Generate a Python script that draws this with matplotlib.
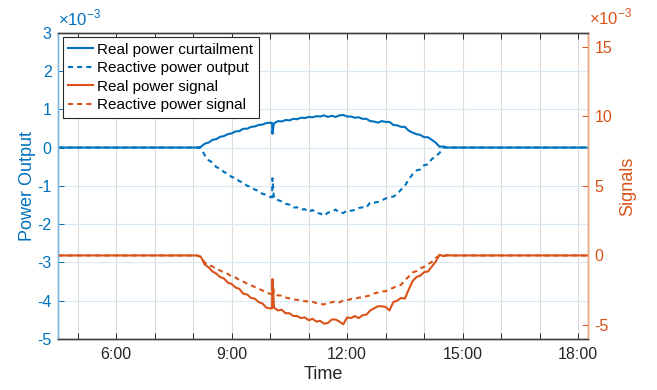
import matplotlib.pyplot as plt
import numpy as np

plt.rcParams['font.family'] = ['Liberation Sans', 'DejaVu Sans']
plt.rcParams['mathtext.fontset'] = 'custom'
plt.rcParams['mathtext.rm'] = 'Liberation Sans'
plt.rcParams['axes.unicode_minus'] = False

BLUE = '#0072BD'
ORANGE = '#D95319'
DARK = '#262626'

# samples every 6 minutes, 8:00 .. 14:42 (hours)
t_day = np.arange(480, 886, 6) / 60.0
t_start, t_end = 4.5, 18.25

# power output axis (x1e-3)
real_curtailment = [
    0.0, 0.0, 0.02, 0.10, 0.13, 0.20, 0.22, 0.28, 0.30, 0.35,
    0.37, 0.42, 0.43, 0.49, 0.49, 0.54, 0.55, 0.59, 0.60, 0.64,
    0.65, 0.63, 0.69, 0.68, 0.72, 0.71, 0.75, 0.74, 0.78, 0.77,
    0.80, 0.79, 0.82, 0.81, 0.84, 0.80, 0.83, 0.80, 0.84, 0.85,
    0.81, 0.81, 0.78, 0.79, 0.75, 0.75, 0.69, 0.68, 0.65, 0.69,
    0.67, 0.67, 0.59, 0.58, 0.54, 0.54, 0.44, 0.39, 0.35, 0.33,
    0.27, 0.27, 0.20, 0.13, 0.02, 0.03, 0.0, 0.0]
reactive_output = [
    0.0, 0.0, -0.02, -0.20, -0.33, -0.39, -0.51, -0.55, -0.64, -0.68,
    -0.77, -0.79, -0.88, -0.91, -1.00, -1.02, -1.10, -1.13, -1.21, -1.23,
    -1.29, -1.33, -1.37, -1.41, -1.47, -1.49, -1.57, -1.56, -1.62, -1.61,
    -1.68, -1.63, -1.72, -1.72, -1.78, -1.70, -1.68, -1.62, -1.70, -1.71,
    -1.64, -1.65, -1.63, -1.58, -1.56, -1.57, -1.43, -1.44, -1.42, -1.38,
    -1.33, -1.30, -1.28, -1.22, -1.10, -1.00, -0.83, -0.70, -0.60, -0.57,
    -0.46, -0.44, -0.30, -0.24, -0.14, 0.0, 0.0, 0.0]

# signal axis (x1e-3)
real_signal = [
    0.0, 0.0, -0.10, -0.65, -0.85, -1.15, -1.30, -1.55, -1.65, -1.95,
    -2.05, -2.30, -2.40, -2.75, -2.80, -3.05, -3.10, -3.35, -3.45, -3.75,
    -3.80, -3.75, -3.95, -3.90, -4.15, -4.15, -4.35, -4.35, -4.50, -4.45,
    -4.65, -4.55, -4.75, -4.70, -4.90, -4.85, -4.60, -4.60, -4.75, -4.95,
    -4.45, -4.50, -4.35, -4.50, -4.30, -4.25, -3.95, -3.80, -3.65, -3.65,
    -3.70, -3.95, -3.35, -3.25, -3.05, -3.10, -2.45, -1.85, -1.55, -1.45,
    -1.20, -1.15, -0.80, -0.45, 0.05, -0.05, 0.02, 0.0]
reactive_signal = [
    0.0, 0.0, -0.10, -0.50, -0.72, -0.78, -0.97, -1.08, -1.22, -1.33,
    -1.52, -1.58, -1.77, -1.88, -2.02, -2.13, -2.27, -2.38, -2.52, -2.68,
    -2.75, -2.80, -2.87, -2.88, -3.02, -3.08, -3.17, -3.18, -3.27, -3.28,
    -3.32, -3.33, -3.42, -3.48, -3.52, -3.38, -3.37, -3.28, -3.37, -3.23,
    -3.22, -3.13, -3.12, -3.03, -3.02, -2.93, -2.87, -2.73, -2.67, -2.58,
    -2.57, -2.43, -2.32, -2.18, -2.12, -1.78, -1.52, -1.23, -1.12, -0.93,
    -0.82, -0.63, -0.47, -0.18, 0.0, 0.0, 0.0, 0.0]

# short disturbance just after 10:00
spike_t = np.array([10.05, 10.06, 10.08])
real_curtailment_spike = [0.64, 0.36, 0.52]
reactive_output_spike = [-1.30, -0.80, -1.10]
real_signal_spike = [-3.80, -1.70, -2.60]
reactive_signal_spike = [-2.80, -1.75, -2.30]


def series(vals, spike_vals):
    t = np.concatenate([[t_start], t_day, spike_t, [t_end]])
    v = np.concatenate([[0.0], vals, spike_vals, [0.0]])
    order = np.argsort(t, kind='stable')
    return t[order], v[order]


def hhmm(h, pos=None):
    return '%d:%02d' % (int(h), round((h % 1) * 60))


fig = plt.figure(figsize=(6.57, 3.9), dpi=100)
ax1 = fig.add_axes([0.089, 0.1308, 0.8055, 0.7854])
ax2 = ax1.twinx()

lw = 1.5
dash = (0, (2.4, 2.0))
l1, = ax1.plot(*series(real_curtailment, real_curtailment_spike), color=BLUE, lw=lw)
l2, = ax1.plot(*series(reactive_output, reactive_output_spike), color=BLUE, lw=lw, ls=dash)
l3, = ax2.plot(*series(real_signal, real_signal_spike), color=ORANGE, lw=lw)
l4, = ax2.plot(*series(reactive_signal, reactive_signal_spike), color=ORANGE, lw=lw, ls=dash)

ax1.set_xlim(t_start, t_end)
ax1.set_ylim(-5, 3)
ax2.set_ylim(-6, 16)

hours = np.arange(5, 19)
ax1.set_xticks(hours)
ax1.set_xticklabels([hhmm(h) if h % 3 == 0 else '' for h in hours])
ax1.set_yticks(np.arange(-5, 4))
ax2.set_yticks([-5, 0, 5, 10, 15])

ax1.grid(True, axis='x', color='#dcdcdc', lw=0.8)
ax1.grid(True, axis='y', color='#d9eaf5', lw=0.8)
ax1.set_axisbelow(True)

ax1.tick_params(axis='x', direction='in', top=True, length=4, width=0.7,
                colors=DARK, labelsize=11.5, pad=6)
ax1.tick_params(axis='y', direction='in', length=4, width=0.7,
                colors=BLUE, labelsize=11.5, pad=5)
ax2.tick_params(axis='y', direction='in', length=4, width=0.7,
                colors=ORANGE, labelsize=11.5, pad=5)

for ax in (ax1, ax2):
    ax.spines['top'].set_color('#404040')
    ax.spines['bottom'].set_color('#404040')
    ax.spines['left'].set_color('#7fb3dc')
    ax.spines['right'].set_color('#eea17f')
    for s in ax.spines.values():
        s.set_linewidth(1.0)

ax1.set_xlabel('Time', fontsize=13, color=DARK, labelpad=3)
ax1.set_ylabel('Power Output', fontsize=13, color=BLUE, labelpad=1)
ax2.set_ylabel('Signals', fontsize=13, color=ORANGE, labelpad=5)

ax1.annotate(r'×10$^{-3}$', xy=(0, 1), xycoords='axes fraction',
             xytext=(0, 3), textcoords='offset points',
             fontsize=12, color=BLUE, ha='left', va='bottom')
ax2.annotate(r'×10$^{-3}$', xy=(1, 1), xycoords='axes fraction',
             xytext=(1, 4), textcoords='offset points',
             fontsize=12, color=ORANGE, ha='left', va='bottom')

leg = ax2.legend([l1, l2, l3, l4],
                 ['Real power curtailment', 'Reactive power output',
                  'Real power signal', 'Reactive power signal'],
                 loc='upper left', fontsize=11, fancybox=False, framealpha=1,
                 edgecolor=DARK, borderaxespad=0.3, borderpad=0.35,
                 handlelength=1.6, handletextpad=0.3, labelspacing=0.3)
leg.get_frame().set_linewidth(0.8)

fig.savefig('out.png', dpi=100)
